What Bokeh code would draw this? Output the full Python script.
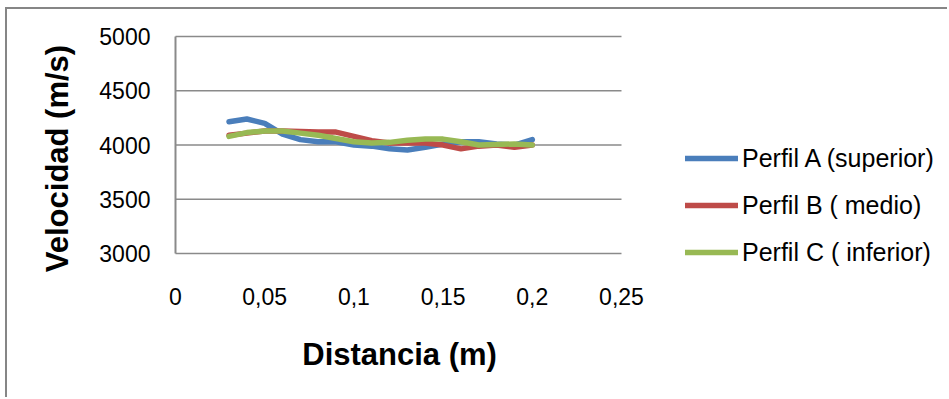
import math
from bokeh.plotting import figure
from bokeh.models import Legend, LegendItem, FixedTicker, Range1d, Label
from bokeh.embed import file_html
from bokeh.resources import INLINE

# ---- data ----
distancia = [0.03, 0.04, 0.05, 0.06, 0.07, 0.08, 0.09, 0.10, 0.11,
             0.12, 0.13, 0.14, 0.15, 0.16, 0.17, 0.18, 0.19, 0.20]
perfil_a = [4215, 4240, 4200, 4100, 4050, 4030, 4030, 4000, 3990,
            3965, 3955, 3980, 4010, 4030, 4030, 4010, 4000, 4050]
perfil_b = [4090, 4110, 4130, 4130, 4125, 4120, 4120, 4080, 4040,
            4020, 4020, 4020, 4000, 3965, 3990, 4000, 3980, 4000]
perfil_c = [4080, 4115, 4130, 4130, 4110, 4090, 4060, 4030, 4020,
            4025, 4045, 4055, 4055, 4030, 4000, 4005, 4010, 4000]
series_names = ["Perfil A (superior)", "Perfil B ( medio)", "Perfil C ( inferior)"]
series_colors = ["#4A7EBB", "#BE4B48", "#98B954"]
x_ticks = [0, 0.05, 0.1, 0.15, 0.2, 0.25]
x_tick_labels = ["0", "0,05", "0,1", "0,15", "0,2", "0,25"]
y_ticks = [3000, 3500, 4000, 4500, 5000]
x_title = "Distancia (m)"
y_title = "Velocidad (m/s)"

FONT = "Liberation Sans"
GRID = "#8A8A8A"

# canvas sits at page offset (7, 9): margin (5, 7) + 2 px chart border
W, H = 942, 390
# the frame fills the whole canvas; ranges chosen so that the plot area
# (0..0.25, 3000..5000) lands where it is in the reference
p = figure(width=W, height=H, output_backend="svg", toolbar_location=None,
           x_range=Range1d(-0.09417, 0.43386), y_range=Range1d(1654, 5250))
p.margin = (7, 0, 0, 5)
p.styles = {"border-left": "2px solid #868686", "border-top": "2px solid #868686"}
p.min_border = 0
p.min_border_left = 0
p.min_border_right = 0
p.min_border_top = 0
p.min_border_bottom = 0
p.outline_line_color = None
p.background_fill_color = "white"
p.border_fill_color = "white"
p.xgrid.visible = False
p.ygrid.visible = False

# horizontal gridlines only across the plot area
p.segment(x0=[x_ticks[0]] * len(y_ticks), x1=[x_ticks[-1]] * len(y_ticks),
          y0=y_ticks, y1=y_ticks, line_color=GRID, line_width=1.5)
# vertical axis line at x = 0
p.segment(x0=[x_ticks[0]], x1=[x_ticks[0]], y0=[y_ticks[0]], y1=[y_ticks[-1]],
          line_color=GRID, line_width=2)

# y axis, drawn inside the frame at x = 0
p.yaxis.fixed_location = 0
p.yaxis.ticker = FixedTicker(ticks=y_ticks)
p.yaxis.axis_line_color = None
p.yaxis.major_tick_out = 0
p.yaxis.major_tick_in = 0
p.yaxis.minor_tick_out = 0
p.yaxis.minor_tick_in = 0
p.yaxis.major_label_standoff = 25
p.yaxis.major_label_text_font = FONT
p.yaxis.major_label_text_font_size = "23px"
p.yaxis.major_label_text_color = "black"

# x axis, drawn inside the frame at y = 3000
p.xaxis.fixed_location = 3000
p.xaxis.ticker = FixedTicker(ticks=x_ticks)
p.xaxis.major_label_overrides = {t: l for t, l in zip(x_ticks, x_tick_labels)}
p.xaxis.axis_line_color = None
p.xaxis.major_tick_out = 0
p.xaxis.major_tick_in = 0
p.xaxis.minor_tick_out = 0
p.xaxis.minor_tick_in = 0
p.xaxis.major_label_standoff = 34
p.xaxis.major_label_text_font = FONT
p.xaxis.major_label_text_font_size = "23px"
p.xaxis.major_label_text_color = "black"

# lines
renderers = []
for ys, c in zip([perfil_a, perfil_b, perfil_c], series_colors):
    r = p.line(distancia, ys, line_color=c, line_width=5.5,
               line_join="round", line_cap="round")
    renderers.append(r)

# axis titles
p.add_layout(Label(x=0.1256, y=2069, text=x_title, text_font=FONT,
                   text_font_size="31px", text_font_style="bold",
                   text_align="center", text_baseline="middle",
                   text_color="black"))
p.add_layout(Label(x=-0.0661, y=3876, text=y_title, text_font=FONT,
                   text_font_size="31px", text_font_style="bold",
                   text_align="center", text_baseline="middle",
                   angle=math.pi / 2, text_color="black"))

# legend
legend = Legend(items=[LegendItem(label=n, renderers=[r])
                       for n, r in zip(series_names, renderers)],
                location=(678, 132))
legend.padding = 0
legend.margin = 0
legend.border_line_color = None
legend.background_fill_alpha = 0
legend.glyph_width = 53
legend.glyph_height = 30
legend.label_height = 30
legend.label_standoff = 4
legend.spacing = 17
legend.label_text_font = FONT
legend.label_text_font_size = "25px"
legend.label_text_color = "black"
p.add_layout(legend, "center")

open("out.html", "w").write(file_html(p, INLINE))
